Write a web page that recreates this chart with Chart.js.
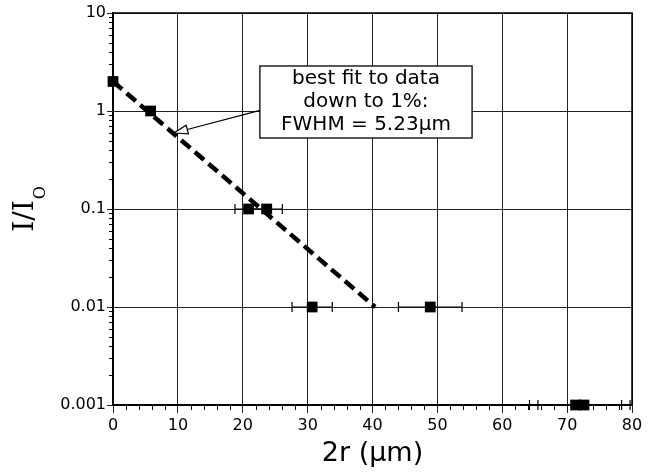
<!DOCTYPE html>
<html>
<head>
<meta charset="utf-8">
<script src="https://cdn.jsdelivr.net/npm/chart.js@4/dist/chart.umd.min.js"></script>
<style>
  html, body { margin: 0; padding: 0; background: #fff; }
  #wrap { width: 655px; height: 473px; }
</style>
</head>
<body>
<div id="wrap"><canvas id="myChart" width="655" height="473"></canvas></div>
<script>
// valores
const xTicks = [0, 10, 20, 30, 40, 50, 60, 70, 80];
const yTicks = [0.001, 0.01, 0.1, 1, 10];
const yTickLabels = ['0.001', '0.01', '0.1', '1', '10'];

const diametro = [0, 5.8, 20.9, 23.7, 30.7, 48.9, 71.3, 72.6];
const intensidad = [2, 1, 0.1, 0.1, 0.01, 0.01, 0.001, 0.001];
const errorX = [0, 0, 2.1, 2.4, 3.1, 4.9, 7.1, 7.1];

const ajusteX = [0, 40.4];
const ajusteY = [2, 0.01];

const tituloX = '2r (µm)';
const tituloY = 'I/I';
const tituloYSub = 'O';
const notaLineas = ['best fit to data', 'down to 1%:', 'FWHM = 5.23µm'];

// caja de la nota y flecha, en unidades de los ejes
const notaCaja = { x1: 22.64, x2: 55.35, yTop: 2.88, yBottom: 0.53 };
const flecha = { x1: 22.8, y1: 1.02, x2: 9.36, y2: 0.596 };

const sans = '"DejaVu Sans", sans-serif';
const serif = '"DejaVu Serif", serif';

const puntos = diametro.map((d, i) => ({ x: d, y: intensidad[i] }));
const lineaAjuste = ajusteX.map((d, i) => ({ x: d, y: ajusteY[i] }));

const barrasError = {
  id: 'barrasError',
  beforeDatasetsDraw(chart) {
    const { ctx, scales: { x, y } } = chart;
    ctx.save();
    ctx.strokeStyle = '#000';
    ctx.lineWidth = 1.2;
    diametro.forEach((d, i) => {
      if (!errorX[i]) return;
      const py = y.getPixelForValue(intensidad[i]);
      const a = x.getPixelForValue(d - errorX[i]);
      const b = x.getPixelForValue(d + errorX[i]);
      ctx.beginPath();
      ctx.moveTo(a, py); ctx.lineTo(b, py);
      ctx.moveTo(a, py - 5); ctx.lineTo(a, py + 5);
      ctx.moveTo(b, py - 5); ctx.lineTo(b, py + 5);
      ctx.stroke();
    });
    ctx.restore();
  }
};

const extras = {
  id: 'extras',
  beforeDatasetsDraw(chart) {
    const { ctx, chartArea: ca, scales: { x, y } } = chart;
    ctx.save();
    ctx.strokeStyle = '#000';
    ctx.lineWidth = 1;
    ctx.beginPath();
    // marcas menores eje y
    for (let k = 0; k < yTicks.length - 1; k++) {
      for (let m = 2; m <= 9; m++) {
        const py = Math.round(y.getPixelForValue(yTicks[k] * m)) + 0.5;
        ctx.moveTo(ca.left - 4, py); ctx.lineTo(ca.left, py);
      }
    }
    // marcas menores eje x
    for (let v = 2; v < 80; v += 2) {
      if (v % 10 === 0) continue;
      const px = Math.round(x.getPixelForValue(v)) + 0.5;
      ctx.moveTo(px, ca.bottom); ctx.lineTo(px, ca.bottom + 5);
    }
    ctx.stroke();
    // marco
    ctx.lineWidth = 1.5;
    ctx.strokeRect(ca.left, ca.top, ca.right - ca.left, ca.bottom - ca.top);
    ctx.restore();
  },
  afterDraw(chart) {
    const { ctx, chartArea: ca, scales: { x, y } } = chart;
    ctx.save();
    ctx.fillStyle = '#000';

    // titulo x
    ctx.font = '27px ' + sans;
    ctx.textAlign = 'center';
    ctx.textBaseline = 'alphabetic';
    ctx.fillText(tituloX, (ca.left + ca.right) / 2, ca.bottom + 56);

    // titulo y con subindice
    ctx.font = '28px ' + serif;
    const w1 = ctx.measureText(tituloY).width;
    ctx.font = '16px ' + serif;
    const w2 = ctx.measureText(tituloYSub).width;
    const total = w1 + 1 + w2;
    ctx.translate(ca.left - 80, (ca.top + ca.bottom) / 2 + total / 2);
    ctx.rotate(-Math.PI / 2);
    ctx.textAlign = 'left';
    ctx.font = '28px ' + serif;
    ctx.fillText(tituloY, 0, 0);
    ctx.font = '16px ' + serif;
    ctx.fillText(tituloYSub, w1 + 1, 12);
    ctx.setTransform(1, 0, 0, 1, 0, 0);

    // flecha
    const ax1 = x.getPixelForValue(flecha.x1), ay1 = y.getPixelForValue(flecha.y1);
    const ax2 = x.getPixelForValue(flecha.x2), ay2 = y.getPixelForValue(flecha.y2);
    const ang = Math.atan2(ay2 - ay1, ax2 - ax1);
    const largo = 14, ancho = 4.5;
    const bx = ax2 - largo * Math.cos(ang), by = ay2 - largo * Math.sin(ang);
    ctx.strokeStyle = '#000';
    ctx.lineWidth = 1.2;
    ctx.beginPath();
    ctx.moveTo(ax1, ay1); ctx.lineTo(bx, by);
    ctx.stroke();
    ctx.beginPath();
    ctx.moveTo(ax2, ay2);
    ctx.lineTo(bx + ancho * Math.sin(ang), by - ancho * Math.cos(ang));
    ctx.lineTo(bx - ancho * Math.sin(ang), by + ancho * Math.cos(ang));
    ctx.closePath();
    ctx.fillStyle = '#fff';
    ctx.fill();
    ctx.stroke();

    // caja de la nota
    const l = x.getPixelForValue(notaCaja.x1), r = x.getPixelForValue(notaCaja.x2);
    const t = y.getPixelForValue(notaCaja.yTop), b = y.getPixelForValue(notaCaja.yBottom);
    ctx.fillStyle = '#fff';
    ctx.fillRect(l, t, r - l, b - t);
    ctx.lineWidth = 1.3;
    ctx.strokeRect(l, t, r - l, b - t);
    ctx.fillStyle = '#000';
    ctx.font = '20px ' + sans;
    ctx.textAlign = 'center';
    notaLineas.forEach((linea, i) => {
      ctx.fillText(linea, (l + r) / 2, t + 18 + i * 23);
    });
    ctx.restore();
  }
};

const contenedor = document.getElementById('myChart').getContext('2d');
window.myCharts = new Chart(contenedor, {
  data: {
    datasets: [{
      type: 'line',
      data: lineaAjuste,
      borderColor: '#000',
      borderWidth: 4.5,
      borderDash: [12, 6],
      pointRadius: 0,
      fill: false,
      clip: false,
      order: 2
    }, {
      type: 'scatter',
      data: puntos,
      pointStyle: 'rect',
      pointRadius: 7.6,
      backgroundColor: '#000',
      borderWidth: 0,
      clip: false,
      order: 1
    }]
  },
  options: {
    responsive: false,
    animation: false,
    events: [],
    layout: { padding: { top: 13, right: 23, left: 0, bottom: 0 } },
    plugins: { legend: { display: false }, tooltip: { enabled: false } },
    scales: {
      x: {
        type: 'linear',
        min: 0,
        max: 80,
        afterBuildTicks: s => { s.ticks = xTicks.map(v => ({ value: v })); },
        afterFit: s => { s.height = 68; },
        grid: { color: '#222', lineWidth: 1, tickLength: 8 },
        border: { color: '#000', width: 1.5 },
        ticks: { color: '#000', font: { family: sans, size: 16 }, padding: 3, maxRotation: 0 }
      },
      y: {
        type: 'logarithmic',
        min: 0.001,
        max: 10,
        afterBuildTicks: s => { s.ticks = yTicks.map(v => ({ value: v })); },
        afterFit: s => { s.width = 113; },
        grid: { color: '#222', lineWidth: 1, tickLength: 6 },
        border: { color: '#000', width: 1.5 },
        ticks: {
          color: '#000',
          font: { family: sans, size: 16 },
          padding: 1,
          callback: v => yTickLabels[yTicks.indexOf(v)]
        }
      }
    }
  },
  plugins: [barrasError, extras]
});
</script>
</body>
</html>
